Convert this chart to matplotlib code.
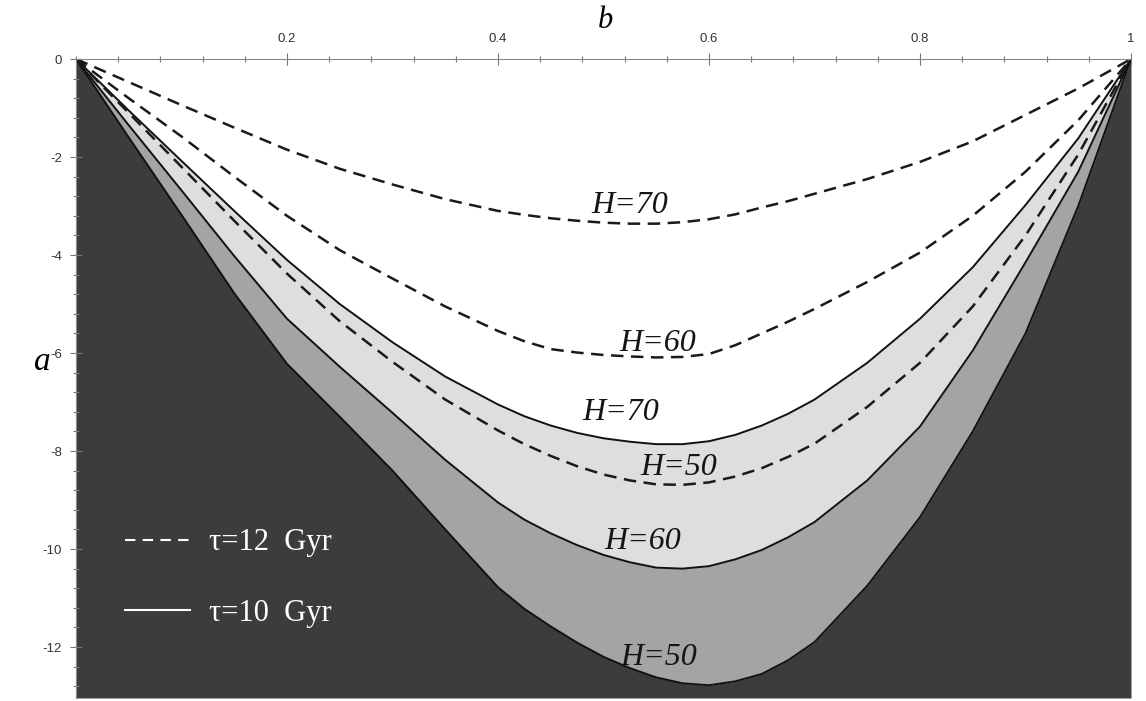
import matplotlib.pyplot as plt
from matplotlib.lines import Line2D
from matplotlib.ticker import FixedLocator, MultipleLocator

# b grid shared by all curves
b = [0, 0.05, 0.1, 0.15, 0.2, 0.25, 0.3, 0.35, 0.4, 0.425, 0.45, 0.475, 0.5,
     0.525, 0.55, 0.575, 0.6, 0.625, 0.65, 0.675, 0.7, 0.75, 0.8, 0.85, 0.9,
     0.95, 1.0]

# tau = 12 Gyr (dashed)
a_t12_h70 = [0, -0.47, -0.94, -1.40, -1.85, -2.24, -2.56, -2.86, -3.10, -3.18,
             -3.25, -3.30, -3.34, -3.36, -3.36, -3.33, -3.27, -3.17, -3.03,
             -2.90, -2.75, -2.45, -2.10, -1.68, -1.14, -0.60, 0]
a_t12_h60 = [0, -0.80, -1.58, -2.40, -3.20, -3.90, -4.48, -5.05, -5.55, -5.76,
             -5.92, -5.99, -6.04, -6.07, -6.09, -6.08, -6.02, -5.84, -5.60,
             -5.36, -5.10, -4.55, -3.95, -3.20, -2.30, -1.25, 0]
a_t12_h50 = [0, -1.10, -2.20, -3.30, -4.38, -5.35, -6.18, -6.95, -7.58, -7.86,
             -8.10, -8.31, -8.48, -8.60, -8.68, -8.69, -8.64, -8.52, -8.35,
             -8.12, -7.85, -7.10, -6.20, -5.05, -3.60, -1.95, 0]

# tau = 10 Gyr (solid, edges of the shaded bands)
a_t10_h70 = [0, -1.05, -2.08, -3.10, -4.10, -5.00, -5.78, -6.48, -7.05, -7.29,
             -7.48, -7.63, -7.74, -7.81, -7.86, -7.86, -7.80, -7.67, -7.48,
             -7.24, -6.95, -6.20, -5.30, -4.25, -2.98, -1.62, 0]
a_t10_h60 = [0, -1.35, -2.68, -4.02, -5.30, -6.28, -7.22, -8.18, -9.05, -9.40,
             -9.68, -9.92, -10.12, -10.27, -10.38, -10.40, -10.35, -10.21,
             -10.02, -9.76, -9.45, -8.60, -7.50, -5.95, -4.15, -2.30, 0]
a_t10_h50 = [0, -1.60, -3.18, -4.78, -6.22, -7.30, -8.40, -9.60, -10.78, -11.22,
             -11.58, -11.91, -12.20, -12.43, -12.62, -12.74, -12.78, -12.70,
             -12.55, -12.27, -11.90, -10.75, -9.35, -7.60, -5.60, -3.00, 0]

x_ticks = [0.2, 0.4, 0.6, 0.8, 1.0]
x_tick_labels = ["0.2", "0.4", "0.6", "0.8", "1"]
y_ticks = [0, -2, -4, -6, -8, -10, -12]
y_tick_labels = ["0", "-2", "-4", "-6", "-8", "-10", "-12"]

A_MIN = -13.04
SERIF = "Liberation Serif"

fig = plt.figure(figsize=(11.46, 7.01), dpi=100)
ax = fig.add_axes([0.0663, 0.0043, 0.9206, 0.9115])

# shaded bands between the tau=10 curves
ax.fill_between(b, a_t10_h50, A_MIN, color="#3c3c3c", lw=0)
ax.fill_between(b, a_t10_h60, a_t10_h50, color="#a4a4a4", lw=0)
ax.fill_between(b, a_t10_h70, a_t10_h60, color="#dedede", lw=0)

for a in (a_t10_h70, a_t10_h60, a_t10_h50):
    ax.plot(b, a, color="#111111", lw=1.4, solid_joinstyle="round")
for a in (a_t12_h70, a_t12_h60, a_t12_h50):
    ax.plot(b, a, color="#1a1a1a", lw=1.8, ls=(0, (5, 3)))

# curve labels
lab = dict(family=SERIF, style="italic", fontsize=23, ha="center", va="center",
           color="#151515")
ax.text(0.525, -2.98, "H=70", **lab)
ax.text(0.551, -5.80, "H=60", **lab)
ax.text(0.516, -7.22, "H=70", **lab)
ax.text(0.571, -8.33, "H=50", **lab)
ax.text(0.537, -9.84, "H=60", **lab)
ax.text(0.552, -12.22, "H=50", **lab)

# legend in white on the dark area
handles = [Line2D([], [], color="white", lw=1.5, ls=(0, (5, 3.5))),
           Line2D([], [], color="white", lw=1.5)]
ax.legend(handles, ["τ=12  Gyr", "τ=10  Gyr"], loc="lower left",
          bbox_to_anchor=(0.046, 0.11), frameon=False, labelcolor="white",
          prop={"family": SERIF, "size": 22}, handlelength=2.15,
          handletextpad=0.6, labelspacing=1.35, borderpad=0, borderaxespad=0)

ax.set_xlim(0, 1)
ax.set_ylim(A_MIN, 0)

# axes: only top (at a=0) and left
ax.spines["bottom"].set_visible(False)
ax.spines["right"].set_visible(False)
ax.spines["top"].set_color("#888888")
ax.spines["left"].set_color("#888888")
ax.spines["top"].set_linewidth(0.8)
ax.spines["left"].set_linewidth(0.8)

ax.xaxis.tick_top()
ax.xaxis.set_major_locator(FixedLocator(x_ticks))
ax.set_xticklabels(x_tick_labels)
ax.xaxis.set_minor_locator(MultipleLocator(0.04))
ax.yaxis.set_major_locator(FixedLocator(y_ticks))
ax.set_yticklabels(y_tick_labels)
ax.yaxis.set_minor_locator(MultipleLocator(0.4))

ax.tick_params(which="both", direction="inout", color="#777777", width=0.8,
               labelsize=9.5, labelcolor="#333333", labelfontfamily="Liberation Sans")
ax.tick_params(which="major", length=8, pad=6)
ax.tick_params(which="minor", length=4)

fig.text(605 / 1146, 1 - 20 / 701, "b", family=SERIF, style="italic",
         fontsize=22, ha="center", va="center")
fig.text(42 / 1146, 1 - 362 / 701, "a", family=SERIF, style="italic",
         fontsize=24, ha="center", va="center")

plt.savefig("out.png", dpi=100)
